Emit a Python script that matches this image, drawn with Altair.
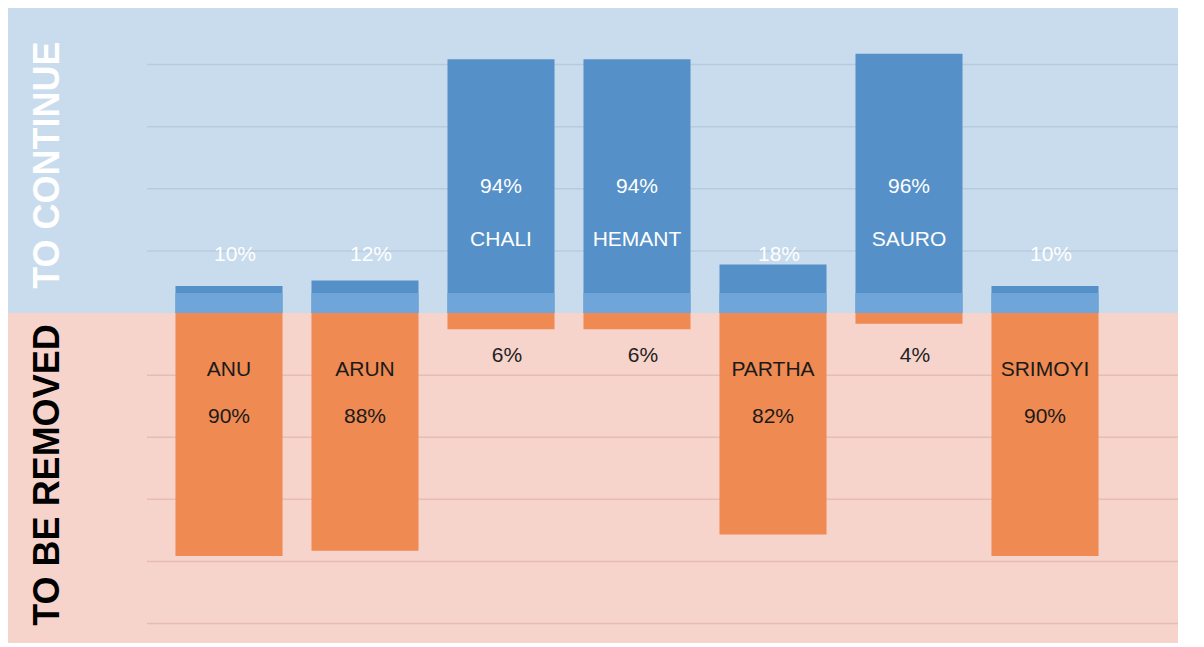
import altair as alt
import pandas as pd

# ---- data ----
names = ["ANU", "ARUN", "CHALI", "HEMANT", "PARTHA", "SAURO", "SRIMOYI"]
to_continue = [10, 12, 94, 94, 18, 96, 10]
to_remove = [90, 88, 6, 6, 82, 4, 90]
grid_up = [23, 46, 69, 92]
grid_down = [-23, -46, -69, -92, -115]

# ---- layout / style ----
W, H = 1170, 635
Y_DOMAIN = [-122.2, 112.96]
BAND_TOP = 7.4
BLUE_BG, RED_BG = "#c9dcee", "#f6d3cb"
BLUE_DARK, BLUE_LIGHT, ORANGE = "#5590c8", "#6fa5d8", "#ee8a52"
FONT = "Liberation Sans"

rows = []
for n, c, r in zip(names, to_continue, to_remove):
    rows.append({"name": n, "cont": c, "rem": -r, "band": min(c, BAND_TOP),
                 "cont_lbl": f"{c}%", "rem_lbl": f"{r}%", "top_win": c > r})
df = pd.DataFrame(rows)
top = df[df.top_win]
bot = df[~df.top_win]

ysc = alt.Scale(domain=Y_DOMAIN, nice=False, zero=False)
xsc = alt.Scale(domain=names, range=[153, 1105], paddingInner=0.213, paddingOuter=0.1065)
X = alt.X("name:N", scale=xsc, axis=None)

def Y(field):
    return alt.Y(field, scale=ysc, axis=None)

bg_up = alt.Chart(pd.DataFrame({"a": [0]})).mark_rect(color=BLUE_BG).encode(
    x=alt.value(0), x2=alt.value(W), y=alt.Y(datum=0, scale=ysc, axis=None), y2=alt.value(0))
bg_down = alt.Chart(pd.DataFrame({"a": [0]})).mark_rect(color=RED_BG).encode(
    x=alt.value(0), x2=alt.value(W), y=alt.Y(datum=0, scale=ysc, axis=None), y2=alt.value(H))

g_up = alt.Chart(pd.DataFrame({"v": grid_up})).mark_rule(color="#b7cbe0", strokeWidth=1.5).encode(
    y=Y("v:Q"), x=alt.value(139), x2=alt.value(W))
g_down = alt.Chart(pd.DataFrame({"v": grid_down})).mark_rule(color="#e6bcb3", strokeWidth=1.5).encode(
    y=Y("v:Q"), x=alt.value(139), x2=alt.value(W))

base = alt.Chart(df)
bars_blue = base.mark_bar(color=BLUE_DARK).encode(x=X, y=Y("cont:Q"), y2=alt.datum(0))
bars_band = base.mark_bar(color=BLUE_LIGHT).encode(x=X, y=Y("band:Q"), y2=alt.datum(0))
bars_orange = base.mark_bar(color=ORANGE).encode(x=X, y=Y("rem:Q"), y2=alt.datum(0))

def txt(data, field, yval, color, dx=0):
    return alt.Chart(data).mark_text(font=FONT, fontSize=21, color=color, dx=dx,
                                     baseline="middle", align="center").encode(
        x=X, y=alt.Y(datum=yval, scale=ysc, axis=None), text=f"{field}:N")

labels = [
    txt(top, "cont_lbl", 46.7, "white"),
    txt(top, "name", 27.0, "white"),
    txt(top, "rem_lbl", -15.9, "#222222", dx=6),
    txt(bot, "cont_lbl", 21.5, "white", dx=6),
    txt(bot, "name", -21.1, "#1a1a1a"),
    txt(bot, "rem_lbl", -38.5, "#1a1a1a"),
]

side = pd.DataFrame({"t": ["TO CONTINUE", "TO BE REMOVED"], "y": [54.8, -60.0],
                     "c": ["white", "black"]})
side_txt = alt.Chart(side).mark_text(font=FONT, fontSize=36, fontWeight="bold", angle=270,
                                     baseline="middle", align="center").encode(
    x=alt.value(40), y=alt.Y("y:Q", scale=ysc, axis=None), text="t:N",
    color=alt.Color("c:N", scale=None))

chart = alt.layer(bg_up, bg_down, g_up, g_down, bars_blue, bars_band, bars_orange,
                  *labels, side_txt).properties(width=W, height=H, padding=0).configure_view(
    strokeWidth=0)

chart.save("out.html", embed_options={"renderer": "svg", "actions": False})
